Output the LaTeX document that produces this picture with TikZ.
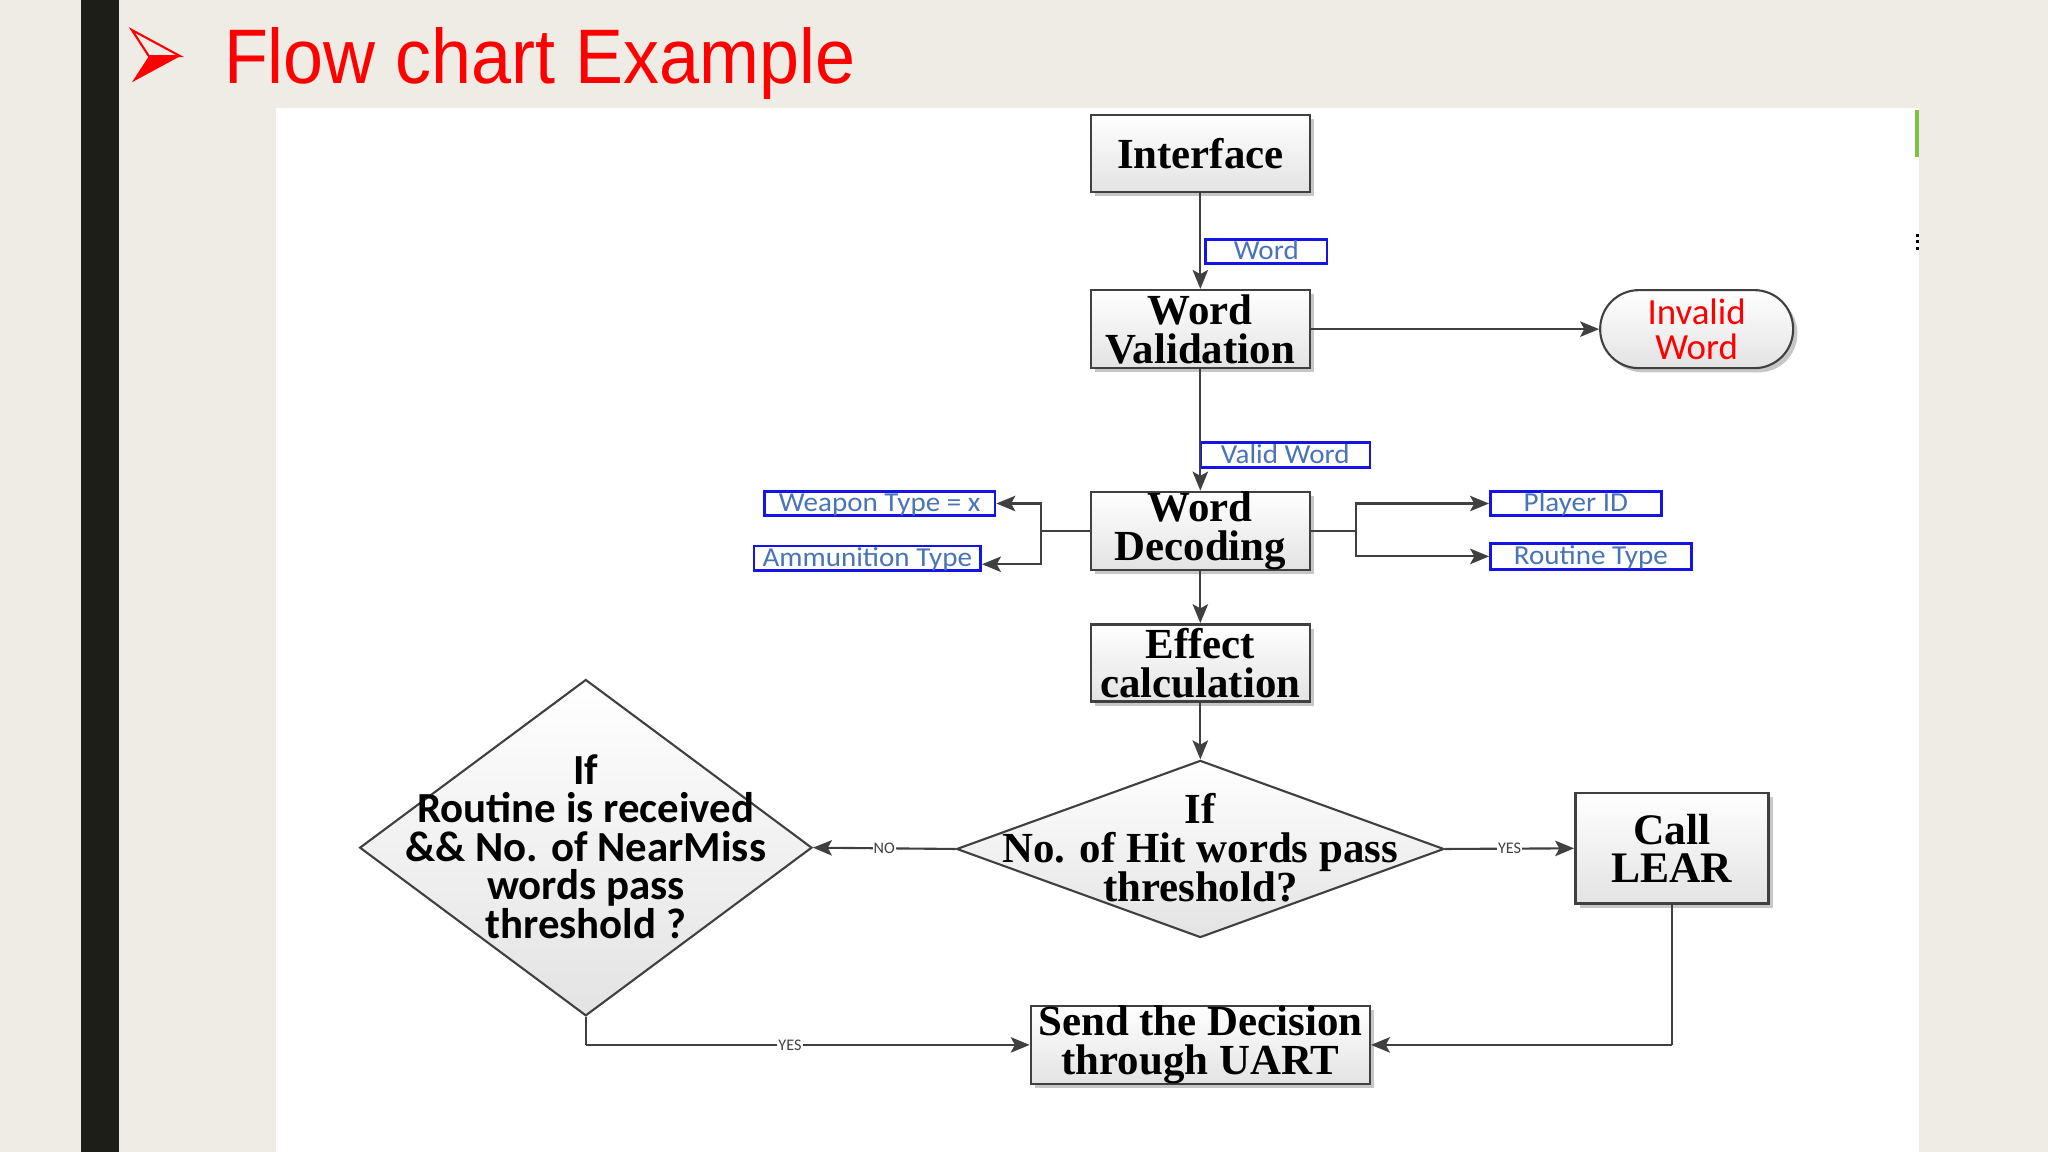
\documentclass[tikz,border=0pt]{standalone}
\usepackage{fontspec}
\setmainfont{Liberation Serif}
\newfontfamily\titlefont[FakeStretch=0.93]{Liberation Sans}
\newfontfamily\calfont{Carlito}
\newfontfamily\calwide[FakeStretch=1.06]{Carlito}
\usetikzlibrary{shapes.geometric,shadows,arrows.meta,calc}
\definecolor{bgc}{HTML}{EFEBE5}
\definecolor{barc}{HTML}{1D1E17}
\definecolor{linec}{HTML}{404040}
\definecolor{lblborder}{HTML}{1414E6}
\definecolor{lbltext}{HTML}{4A74B8}
\definecolor{titlered}{HTML}{FF0000}
\definecolor{greenmark}{HTML}{7DC242}
\begin{document}
\begin{tikzpicture}[x=0.0130612cm,y=-0.0130612cm,
  shade/.style={top color=white, bottom color=black!11},
  shad/.style={drop shadow={shadow xshift=1.2pt,shadow yshift=-1.2pt,fill=black!40,opacity=0.55}},
  box/.style={draw=linec, line width=0.7pt, shade, shad, inner sep=0pt, align=center,
    font=\bfseries\fontsize{12.2}{11.1}\selectfont},
  dia/.style={diamond, draw=linec, line width=0.6pt, shade, inner sep=0pt},
  lbl/.style={draw=lblborder, line width=0.8pt, fill=white, inner sep=0pt,
    text height=5.8pt, text depth=1.2pt,
    text=lbltext, font=\calwide\fontsize{7.8}{9}\selectfont},
  conn/.style={draw=linec, line width=0.6pt},
  arr/.style={conn, -{Stealth[length=5.4pt,width=4.4pt,inset=1.2pt]}},
  yn/.style={fill=white, inner sep=0.3pt, text=linec, font=\calfont\fontsize{4.6}{5}\selectfont}
]
% background
\fill[bgc] (0,0) rectangle (1568,882);
\useasboundingbox (0,0) rectangle (1568,882);
\fill[barc] (62,0) rectangle (91,882);
\fill[white] (211,83) rectangle (1469,882);
\draw[greenmark, line width=1.1pt] (1468,84) -- (1468,120);
\foreach \yy in {179,184,189} \fill[black] (1467,\yy) rectangle (1469.5,\yy+2.2);

% title
\fill[titlered] (114,43) -- (138,43) -- (101,63) -- cycle;
\draw[titlered, line width=0.6pt, line join=miter] (101,23) -- (138,43) -- (114,43) -- cycle;
\node[anchor=base west, inner sep=0pt, text=titlered, font=\titlefont\fontsize{22}{24}\selectfont] (title) at (171,64) {Flow chart Example};

% main boxes
\node[box, minimum width=62.3pt, minimum height=21.9pt] (iface) at (919,117.5) {Interface};
\node[box, minimum width=62.3pt, minimum height=22.2pt] (wval) at (919,252) {Word\\Validation};
\node[draw=linec, line width=0.6pt, shade, shad, rounded corners=11pt, minimum width=54.9pt, minimum height=22.2pt, inner sep=0pt, align=center, text=titlered, font=\calfont\fontsize{10.5}{10}\selectfont] (inval) at (1299,252) {Invalid\\Word};
\node[box, minimum width=62.3pt, minimum height=21.9pt] (wdec) at (919,406.5) {Word\\Decoding};
\node[box, minimum width=62.3pt, minimum height=21.9pt] (effc) at (919,507.5) {Effect\\calculation};
\node[dia, minimum width=138.7pt, minimum height=50.4pt] (d1) at (919,650) {};
\node[inner sep=0pt, align=center, font=\bfseries\fontsize{12.2}{11.1}\selectfont] (d1t) at (919,649) {If\\No. of Hit words pass\\threshold?};
\node[dia, minimum width=128.7pt, minimum height=95.7pt] (d2) at (448.5,649) {};
\node[inner sep=0pt, align=center, font=\calfont\bfseries\fontsize{12.2}{10.95}\selectfont] (d2t) at (448.5,648) {If\\Routine is received\\\&\& No. of NearMiss\\words pass\\threshold ?};
\node[box, minimum width=54.9pt, minimum height=31.5pt, font=\bfseries\fontsize{12.4}{10.8}\selectfont] (lear) at (1280,649.5) {Call\\LEAR};
\node[box, minimum width=96.4pt, minimum height=22.2pt] (send) at (919,800) {Send the Decision\\through UART};

% blue labels
\node[lbl, minimum width=34.5pt, minimum height=7.0pt] (lword) at (969.5,192.5) {Word};
\node[lbl, minimum width=48.2pt, minimum height=7.0pt] (lvalid) at (984,348.5) {Valid Word};
\node[lbl, minimum width=65.6pt, minimum height=6.5pt] (lweap) at (673.5,385.5) {Weapon Type = x};
\node[lbl, minimum width=64.5pt, minimum height=7.0pt] (lammo) at (664,427.5) {Ammunition Type};
\node[lbl, minimum width=48.6pt, minimum height=6.5pt] (lplay) at (1206.5,385.5) {Player ID};
\node[lbl, minimum width=57.1pt, minimum height=7.4pt] (lrout) at (1218,426) {Routine Type};

% junction coordinates
\coordinate (jl) at (797,406.5);
\coordinate (jr) at (1038,406.5);
\coordinate (d2b) at (448.5,800);
\coordinate (learb) at (1280,800);

% connectors
\draw[arr] (iface.south) -- (wval.north);
\draw[arr] (wval.east) -- (inval.west);
\draw[arr] (wval.south) -- (wdec.north);
\draw[conn] (wdec.west) -- (jl);
\draw[arr] (jl) |- (lweap.east);
\draw[arr] (jl) |- ($(lammo.east)+(0,4.5)$);
\draw[conn] (wdec.east) -- (jr);
\draw[arr] (jr) |- (lplay.west);
\draw[arr] (jr) |- (lrout.west);
\draw[arr] (wdec.south) -- (effc.north);
\draw[arr] (effc.south) -- (d1.north);
\draw[arr] (d1.east) -- node[yn] {YES} (lear.west);
\draw[arr] (d1.west) -- node[yn, pos=0.5] {NO} (d2.east);
\draw[conn] (d2.south) -- (d2b);
\draw[arr] (d2b) -- node[yn, pos=0.46] {YES} (send.west);
\draw[conn] (lear.south) -- (learb);
\draw[arr] (learb) -- (send.east);
\end{tikzpicture}
\end{document}
